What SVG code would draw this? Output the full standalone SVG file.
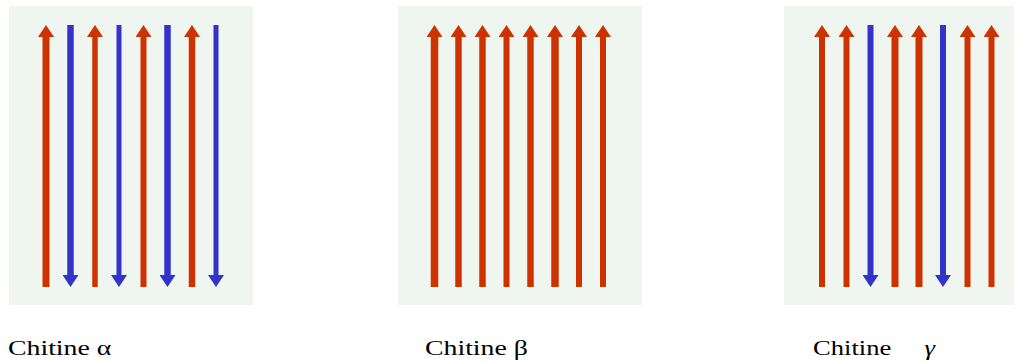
<svg xmlns="http://www.w3.org/2000/svg" width="1016" height="362" viewBox="0 0 1016 362">
  <style>
    .panel { fill: #eff5ef; }
    .up { stroke: #cc3300; fill: none; marker-end: url(#headRed); }
    .down { stroke: #3333cc; fill: none; marker-end: url(#headBlue); }
    .label { font-family: "Liberation Serif", "Times New Roman", serif; font-size: 20px; fill: #000000; }
  </style>
  <defs>
    <marker id="headRed" viewBox="0 0 12 16" refX="0" refY="8" markerWidth="12" markerHeight="16" markerUnits="userSpaceOnUse" orient="auto">
      <path d="M0,0 L12,8 L0,16 Z" fill="#cc3300"/>
    </marker>
    <marker id="headBlue" viewBox="0 0 12 16" refX="0" refY="8" markerWidth="12" markerHeight="16" markerUnits="userSpaceOnUse" orient="auto">
      <path d="M0,0 L12,8 L0,16 Z" fill="#3333cc"/>
    </marker>
  </defs>

  <!-- Chitine alpha: antiparallel chains -->
  <g id="alpha">
    <rect class="panel" x="9" y="6" width="244" height="299"/>
    <g id="alpha-chains">
      <line class="up" x1="46" y1="287" x2="46" y2="37" stroke-width="7"/>
      <line class="down" x1="70.5" y1="25" x2="70.5" y2="275" stroke-width="6.5"/>
      <line class="up" x1="95" y1="287" x2="95" y2="37" stroke-width="5.5"/>
      <line class="down" x1="119" y1="25" x2="119" y2="275" stroke-width="5"/>
      <line class="up" x1="143.5" y1="287" x2="143.5" y2="37" stroke-width="6"/>
      <line class="down" x1="167.5" y1="25" x2="167.5" y2="275" stroke-width="6.5"/>
      <line class="up" x1="192" y1="287" x2="192" y2="37" stroke-width="6.5"/>
      <line class="down" x1="216" y1="25" x2="216" y2="275" stroke-width="5"/>
    </g>
    <text class="label" transform="translate(8,355) scale(1.39,1)">Chitine α</text>
  </g>

  <!-- Chitine beta: parallel chains -->
  <g id="beta">
    <rect class="panel" x="398" y="6" width="244" height="299"/>
    <g id="beta-chains">
      <line class="up" x1="434.5" y1="287" x2="434.5" y2="37" stroke-width="7.5"/>
      <line class="up" x1="458.5" y1="287" x2="458.5" y2="37" stroke-width="6.5"/>
      <line class="up" x1="482.5" y1="287" x2="482.5" y2="37" stroke-width="6.5"/>
      <line class="up" x1="506.5" y1="287" x2="506.5" y2="37" stroke-width="6"/>
      <line class="up" x1="530.5" y1="287" x2="530.5" y2="37" stroke-width="6.5"/>
      <line class="up" x1="555" y1="287" x2="555" y2="37" stroke-width="7.5"/>
      <line class="up" x1="579" y1="287" x2="579" y2="37" stroke-width="6"/>
      <line class="up" x1="603" y1="287" x2="603" y2="37" stroke-width="6"/>
    </g>
    <text class="label" transform="translate(425,355) scale(1.39,1)">Chitine β</text>
  </g>

  <!-- Chitine gamma: two parallel, one antiparallel -->
  <g id="gamma">
    <rect class="panel" x="784" y="6" width="230" height="299"/>
    <g id="gamma-chains">
      <line class="up" x1="822" y1="287" x2="822" y2="37" stroke-width="6"/>
      <line class="up" x1="846.5" y1="287" x2="846.5" y2="37" stroke-width="6"/>
      <line class="down" x1="870.5" y1="25" x2="870.5" y2="275" stroke-width="6"/>
      <line class="up" x1="895" y1="287" x2="895" y2="37" stroke-width="7"/>
      <line class="up" x1="919" y1="287" x2="919" y2="37" stroke-width="7"/>
      <line class="down" x1="943" y1="25" x2="943" y2="275" stroke-width="6"/>
      <line class="up" x1="967.5" y1="287" x2="967.5" y2="37" stroke-width="6"/>
      <line class="up" x1="991.5" y1="287" x2="991.5" y2="37" stroke-width="6"/>
    </g>
    <text class="label" transform="translate(813,355) scale(1.33,1)">Chitine<tspan dx="25" font-style="italic">γ</tspan></text>
  </g>
</svg>
